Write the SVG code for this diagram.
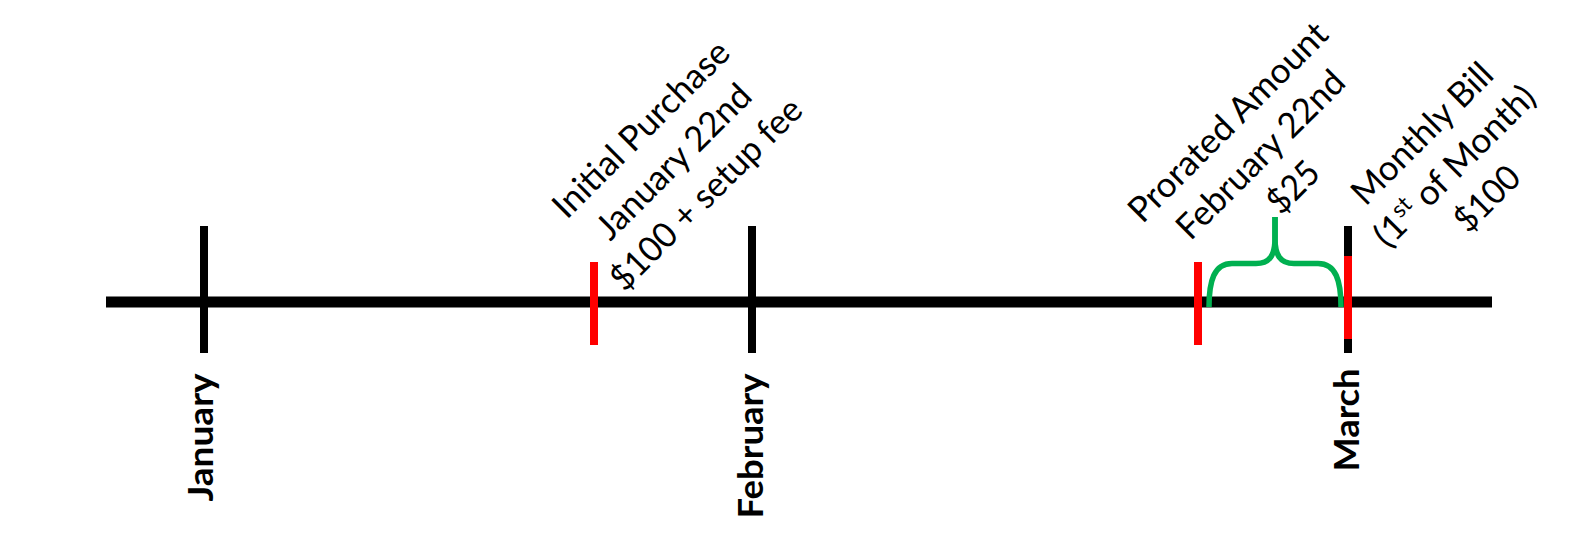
<svg xmlns="http://www.w3.org/2000/svg" width="1594" height="542" viewBox="0 0 1594 542">
<style>
.tick{stroke:#000000;stroke-width:8}
.red{stroke:#FF0000;stroke-width:8}
.brace{fill:none;stroke:#00B050;stroke-width:5.5}
.lbl{font-family:Lato,"Open Sans","Liberation Sans",sans-serif;font-size:35px;fill:#000000;text-anchor:middle}
.month{font-family:Lato,"Liberation Sans",sans-serif;font-size:34px;font-weight:bold;fill:#000000;text-anchor:middle}
</style>
<rect width="1594" height="542" fill="#ffffff"/>
<g id="connectors">
  <line id="axis" x1="106" y1="302" x2="1492" y2="302" stroke="#000000" stroke-width="11"/>
</g>
<g id="tick-january">
  <line class="tick" x1="204" y1="226" x2="204" y2="353"/>
  <text class="month" transform="translate(213,437.5) rotate(-90)" textLength="128" lengthAdjust="spacingAndGlyphs">January</text>
</g>
<g id="tick-february">
  <line class="tick" x1="752" y1="226" x2="752" y2="353"/>
  <text class="month" transform="translate(763,446) rotate(-90)" textLength="145" lengthAdjust="spacingAndGlyphs">February</text>
</g>
<g id="tick-march">
  <line class="tick" x1="1348" y1="226" x2="1348" y2="353"/>
  <line class="red" x1="1348" y1="256" x2="1348" y2="339"/>
  <text class="month" transform="translate(1359,420) rotate(-90)" textLength="103" lengthAdjust="spacingAndGlyphs">March</text>
</g>
<g id="initial-purchase">
  <line class="red" x1="594" y1="262" x2="594" y2="345"/>
  <g transform="translate(649.5,137.5) rotate(-45)">
    <text class="lbl" x="0" y="0" textLength="234" lengthAdjust="spacingAndGlyphs">Initial Purchase</text>
    <text class="lbl" x="0" y="46" textLength="203" lengthAdjust="spacingAndGlyphs">January 22nd</text>
    <text class="lbl" x="0" y="92" textLength="255" lengthAdjust="spacingAndGlyphs">$100 + setup fee</text>
  </g>
</g>
<g id="prorated-amount">
  <line class="red" x1="1198" y1="262" x2="1198" y2="345"/>
  <path class="brace" d="M1209,307 C1209,281 1214,263.5 1232,263.5 L1256,263.5 C1270,263.5 1275,255 1275,238 L1275,217"/>
  <path class="brace" d="M1341,307 C1341,281 1336,263.5 1318,263.5 L1294,263.5 C1280,263.5 1275,255 1275,238 L1275,217"/>
  <g transform="translate(1236.5,130.5) rotate(-45)">
    <text class="lbl" x="0" y="0" textLength="266" lengthAdjust="spacingAndGlyphs">Prorated Amount</text>
    <text class="lbl" x="0" y="46" textLength="222" lengthAdjust="spacingAndGlyphs">February 22nd</text>
    <text class="lbl" x="0" y="92" textLength="58" lengthAdjust="spacingAndGlyphs">$25</text>
  </g>
</g>
<g id="monthly-bill">
  <g transform="translate(1430.5,142) rotate(-45)">
    <text class="lbl" x="0" y="0" textLength="184" lengthAdjust="spacingAndGlyphs">Monthly Bill</text>
    <text class="lbl" x="0" y="46" textLength="212" lengthAdjust="spacingAndGlyphs">(1<tspan font-size="23" dy="-13">st</tspan><tspan dy="13"> of Month)</tspan></text>
    <text class="lbl" x="0" y="92" textLength="77" lengthAdjust="spacingAndGlyphs">$100</text>
  </g>
</g>
</svg>
